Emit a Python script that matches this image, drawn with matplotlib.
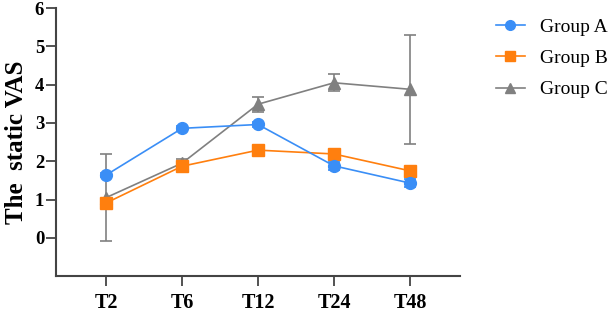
import matplotlib
matplotlib.use('Agg')
import matplotlib.pyplot as plt
from matplotlib.lines import Line2D

times = ['T2', 'T6', 'T12', 'T24', 'T48']
group_a = [1.64, 2.86, 2.96, 1.88, 1.43]
group_a_err = [0.05, 0.07, 0.07, 0.11, 0.11]
group_b = [0.91, 1.87, 2.29, 2.19, 1.75]
group_b_err = [0.05, 0.05, 0.05, 0.05, 0.05]
group_c = [1.05, 1.95, 3.49, 4.05, 3.88]
group_c_err = [1.13, 0.12, 0.20, 0.22, 1.42]

names = ['Group A', 'Group B', 'Group C']
colors = {'Group A': '#3A8EF6', 'Group B': '#FF7F0E', 'Group C': '#808080'}
markers = {'Group A': 'o', 'Group B': 's', 'Group C': '^'}
msizes = {'Group A': 8.5, 'Group B': 8.5, 'Group C': 9}

plt.rcParams['font.family'] = ['Liberation Serif', 'DejaVu Serif']

fig = plt.figure(figsize=(6.13, 3.13), dpi=100)
ax = fig.add_axes([0.0914, 0.118, 0.659, 0.856])

x = list(range(len(times)))
for name, vals, err, z in [('Group C', group_c, group_c_err, 2),
                           ('Group B', group_b, group_b_err, 3),
                           ('Group A', group_a, group_a_err, 4)]:
    ax.errorbar(x, vals, yerr=err, color=colors[name], marker=markers[name],
                markersize=msizes[name], lw=1.2, capsize=4, elinewidth=1.2,
                capthick=1.2, zorder=z)

ax.set_xlim(-0.66, 4.66)
ax.set_ylim(-1, 6)
ax.set_yticks([0, 1, 2, 3, 4, 5, 6])
ax.set_xticks(x)
ax.set_xticklabels(times)
for s in ['top', 'right']:
    ax.spines[s].set_visible(False)
for s in ['left', 'bottom']:
    ax.spines[s].set_linewidth(1.5)
    ax.spines[s].set_color('#444444')
ax.tick_params(direction='out', length=7, width=1.3, color='#444444')
ax.tick_params(axis='y', labelsize=13.5, pad=1.5)
ax.tick_params(axis='x', labelsize=14.5, pad=5)
for lab in ax.get_xticklabels() + ax.get_yticklabels():
    lab.set_fontweight('bold')
ax.set_ylabel('The  static VAS', fontsize=18, fontweight='bold', labelpad=5)

handles = [Line2D([], [], color=colors[n], marker=markers[n], markersize=7, lw=1.2)
           for n in names]
fig.legend(handles, names, loc='upper left', bbox_to_anchor=(0.796, 0.966),
           borderaxespad=0, frameon=False, fontsize=14, handlelength=1.5,
           handletextpad=0.8, labelspacing=0.7)

plt.savefig('out.png', dpi=100)
